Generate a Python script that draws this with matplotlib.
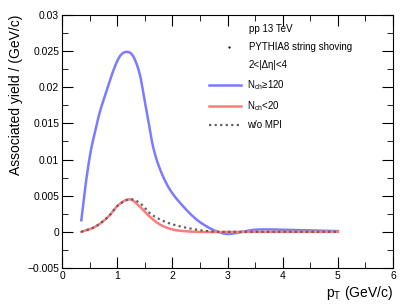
import numpy as np
import matplotlib
matplotlib.use("Agg")
import matplotlib.pyplot as plt
from matplotlib.ticker import MultipleLocator

plt.rcParams['font.family'] = ['Liberation Sans', 'DejaVu Sans']
plt.rcParams['mathtext.fontset'] = 'custom'
plt.rcParams['mathtext.rm'] = 'Liberation Sans'
plt.rcParams['mathtext.it'] = 'Liberation Sans:italic'

# Data
pt_hi = [0.35, 0.42, 0.51, 0.6, 0.69, 0.81, 0.93, 1.05, 1.17, 1.29, 1.41, 1.49, 1.56, 1.65, 1.78, 1.96,
         2.2, 2.44, 2.68, 2.83, 3.0, 3.2, 3.5, 4.0, 4.5, 5.0]
y_hi = [0.0016, 0.0061, 0.0107, 0.0139, 0.0167, 0.0195, 0.0223, 0.0243, 0.0249, 0.0243, 0.0218, 0.0185,
        0.0156, 0.0118, 0.0086, 0.0058, 0.0035, 0.0017, 0.0005, 0.0, -0.0003, -0.0001, 0.0003, 0.0003,
        0.0002, 0.0001]

pt_lo = [0.35, 0.6, 0.84, 1.02, 1.23, 1.41, 1.59, 1.78, 2.02, 2.44, 3.0, 4.0, 5.0]
y_lo = [0.0, 0.0007, 0.0021, 0.0037, 0.0045, 0.0035, 0.0021, 0.0010, 0.0003, 0.0, 0.0, 0.0, 0.0]

pt_nompi = [0.35, 0.6, 0.84, 1.02, 1.23, 1.41, 1.59, 1.78, 2.02, 2.44, 2.8, 3.0, 4.0, 5.0]
y_nompi = [0.0, 0.0007, 0.0021, 0.0037, 0.0045, 0.0040, 0.0026, 0.0017, 0.0010, 0.0003, 0.0, 0.0, 0.0, 0.0]


def smooth(x, y):
    # cubic Hermite through the read points
    x = np.asarray(x, float)
    y = np.asarray(y, float)
    xs, ys = [], []
    for i in range(len(x) - 1):
        x0, x1 = x[i], x[i + 1]
        y0, y1 = y[i], y[i + 1]
        m0 = (y[i + 1] - y[i - 1]) / (x[i + 1] - x[i - 1]) if i > 0 else (y1 - y0) / (x1 - x0)
        m1 = (y[i + 2] - y[i]) / (x[i + 2] - x[i]) if i < len(x) - 2 else (y1 - y0) / (x1 - x0)
        t = np.linspace(0, 1, 30, endpoint=False)
        h = x1 - x0
        h00 = 2 * t**3 - 3 * t**2 + 1
        h10 = t**3 - 2 * t**2 + t
        h01 = -2 * t**3 + 3 * t**2
        h11 = t**3 - t**2
        xs.extend(x0 + t * h)
        ys.extend(h00 * y0 + h10 * h * m0 + h01 * y1 + h11 * h * m1)
    xs.append(x[-1])
    ys.append(y[-1])
    return np.array(xs), np.array(ys)


fig = plt.figure(figsize=(4.15, 3.05), dpi=100)
ax = fig.add_axes([62 / 415, 1 - 268 / 305, (393 - 62) / 415, (268 - 15) / 305])

x, y = smooth(pt_hi, y_hi)
ax.plot(x, y, color='#7b7bff', lw=1.8, label='N$_{\\rm ch}$\u2265120')
x, y = smooth(pt_lo, y_lo)
ax.plot(x, y, color='#ff7b7b', lw=1.8, label='N$_{\\rm ch}$<20')
x, y = smooth(pt_nompi, y_nompi)
ax.plot(x, y, color='#606060', lw=1.6, ls=(0, (1, 1.5)), label='w/o MPI')

ax.set_xlim(0, 6)
ax.set_ylim(-0.005, 0.03)
ax.xaxis.set_major_locator(MultipleLocator(1))
ax.xaxis.set_minor_locator(MultipleLocator(0.5))
ax.yaxis.set_minor_locator(MultipleLocator(0.0025))
ax.set_yticks(np.arange(-0.005, 0.0301, 0.005))
ax.set_yticklabels(['\u22120.005', '0', '0.005', '0.01', '0.015', '0.02', '0.025', '0.03'])
ax.tick_params(which='both', direction='in', top=True, right=True, labelsize=7.5, pad=2)
ax.tick_params(which='major', length=8)
ax.tick_params(which='minor', length=4)

ax.set_xlabel('p$_{\\rm T}$ (GeV/c)', fontsize=10, loc='right', labelpad=2)
ax.set_ylabel('Associated yield / (GeV/c)', fontsize=10, loc='top', labelpad=3)

# header texts
ax.text(0.565, 0.945, 'pp 13 TeV', transform=ax.transAxes, fontsize=7, va='center')
ax.text(0.565, 0.873, 'PYTHIA8 string shoving', transform=ax.transAxes, fontsize=7, va='center')
ax.plot([0.505], [0.873], marker='.', ms=1.2, color='black', transform=ax.transAxes)
ax.text(0.565, 0.801, '2<|\u0394\u03b7|<4', transform=ax.transAxes, fontsize=7, va='center')

leg = ax.legend(loc='upper left', bbox_to_anchor=(0.43, 0.77), frameon=False, fontsize=7,
                handlelength=3.3, handletextpad=0.6, labelspacing=0.75, borderpad=0)

fig.savefig('out.png', dpi=100)
